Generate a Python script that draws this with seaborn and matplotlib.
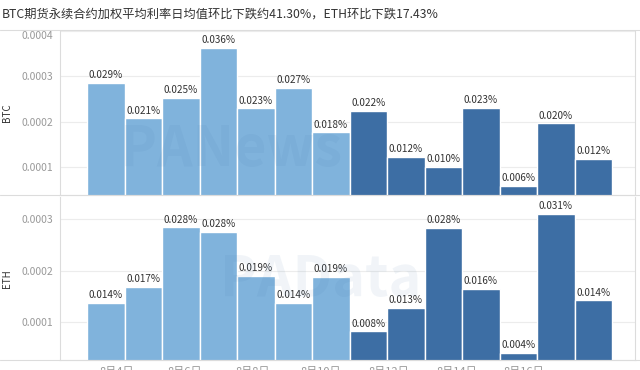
import matplotlib
matplotlib.use("Agg")
import matplotlib.pyplot as plt
from matplotlib.lines import Line2D
import seaborn as sns
import pandas as pd

# ---- data ----
days = ["D1", "D2", "D3", "D4", "D5", "D6", "D7",
        "D8", "D9", "D10", "D11", "D12", "D13", "D14"]
period = ["prev"] * 7 + ["curr"] * 7
btc = [0.000286, 0.000207, 0.000253, 0.000362, 0.000229, 0.000274, 0.000176,
       0.000224, 0.000122, 0.000100, 0.000231, 0.000058, 0.000196, 0.000117]
eth = [0.000137, 0.000168, 0.000284, 0.000275, 0.000190, 0.000137, 0.000188,
       0.000082, 0.000127, 0.000283, 0.000164, 0.000040, 0.000310, 0.000142]
btc_ticks = [0.0001, 0.0002, 0.0003, 0.0004]
eth_ticks = [0.0001, 0.0002, 0.0003]
date_labels = ["8月4日", "8月6日", "8月8日", "8月10日", "8月12日", "8月14日", "8月16日"]
title = "BTC期货永续合约加权平均利率日均值环比下跌约41.30%，ETH环比下跌17.43%"

LIGHT = "#80b3dc"
DARK = "#3d6ea4"
GRID = "#ececec"
EDGE = "#dcdcdc"

sns.set_theme(style="white")
plt.rcParams["font.family"] = ["Noto Sans CJK SC", "DejaVu Sans"]

df = pd.DataFrame({"day": days, "period": period, "BTC": btc, "ETH": eth})

fig = plt.figure(figsize=(6.4, 3.7), dpi=100)
W, H = 640, 370

def fr(x0, y0, x1, y1):
    return [x0 / W, 1 - y1 / H, (x1 - x0) / W, (y1 - y0) / H]

ax1 = fig.add_axes(fr(60, 31, 635, 195))
ax2 = fig.add_axes(fr(60, 197, 635, 360))

panels = [(ax1, "BTC", btc_ticks, (0.0000378, 0.0004)),
          (ax2, "ETH", eth_ticks, (0.0000262, 0.000343))]

for ax, coin, ticks, ylim in panels:
    sns.barplot(data=df, x="day", y=coin, hue="period",
                palette={"prev": LIGHT, "curr": DARK}, dodge=False,
                saturation=1, width=1.0, edgecolor="white", linewidth=1.0,
                legend=False, ax=ax, zorder=2)
    ax.set_ylim(*ylim)
    ax.set_xlim(-1.22, 14.11)
    ax.set_yticks(ticks)
    ax.set_yticklabels([f"{t:.4f}" for t in ticks], fontsize=7.5, color="#999999")
    ax.tick_params(axis="y", length=0, pad=5)
    ax.yaxis.grid(True, color=GRID, linewidth=0.8, zorder=0)
    ax.set_axisbelow(True)
    ax.set_ylabel(coin, fontsize=7, color="#333333")
    ax.set_xlabel("")
    for s in ax.spines.values():
        s.set_color(EDGE)
        s.set_linewidth(0.8)
    ax.spines["top"].set_visible(False)
    for cont in ax.containers:
        ax.bar_label(cont, labels=[f"{v * 100:.3f}%" for v in cont.datavalues],
                     fontsize=7.2, color="#333333", padding=2)

# top tick label sits below the panel top
ax1.get_yticklabels()[-1].set_va("top")
ax1.set_xticks([])
ax1.tick_params(axis="x", length=0)

tick_pos = [0.30, 2.11, 3.92, 5.73, 7.54, 9.35, 11.16]
ax2.set_xticks(tick_pos)
ax2.set_xticklabels(date_labels, fontsize=8, color="#999999")
ax2.tick_params(axis="x", length=0, pad=5)

ax1.yaxis.set_label_coords(-0.083, 0.5)
ax2.yaxis.set_label_coords(-0.083, 0.5)

# separators spanning the whole width
for y in (30, 195, 360):
    fig.add_artist(Line2D([0, 1], [1 - y / H, 1 - y / H], color=EDGE, linewidth=0.8))

# faint watermarks
fig.text(120 / W, 1 - 150 / H, "PANews", fontsize=40, fontweight="bold",
         color="#3b6ea5", alpha=0.07, va="center", ha="left")
fig.text(220 / W, 1 - 280 / H, "PAData", fontsize=40, fontweight="bold",
         color="#3b6ea5", alpha=0.07, va="center", ha="left")

fig.text(2 / W, 1 - 14 / H, title, fontsize=8.8, color="#333333",
         va="center", ha="left")

fig.savefig("out.png", dpi=100, facecolor="white")
